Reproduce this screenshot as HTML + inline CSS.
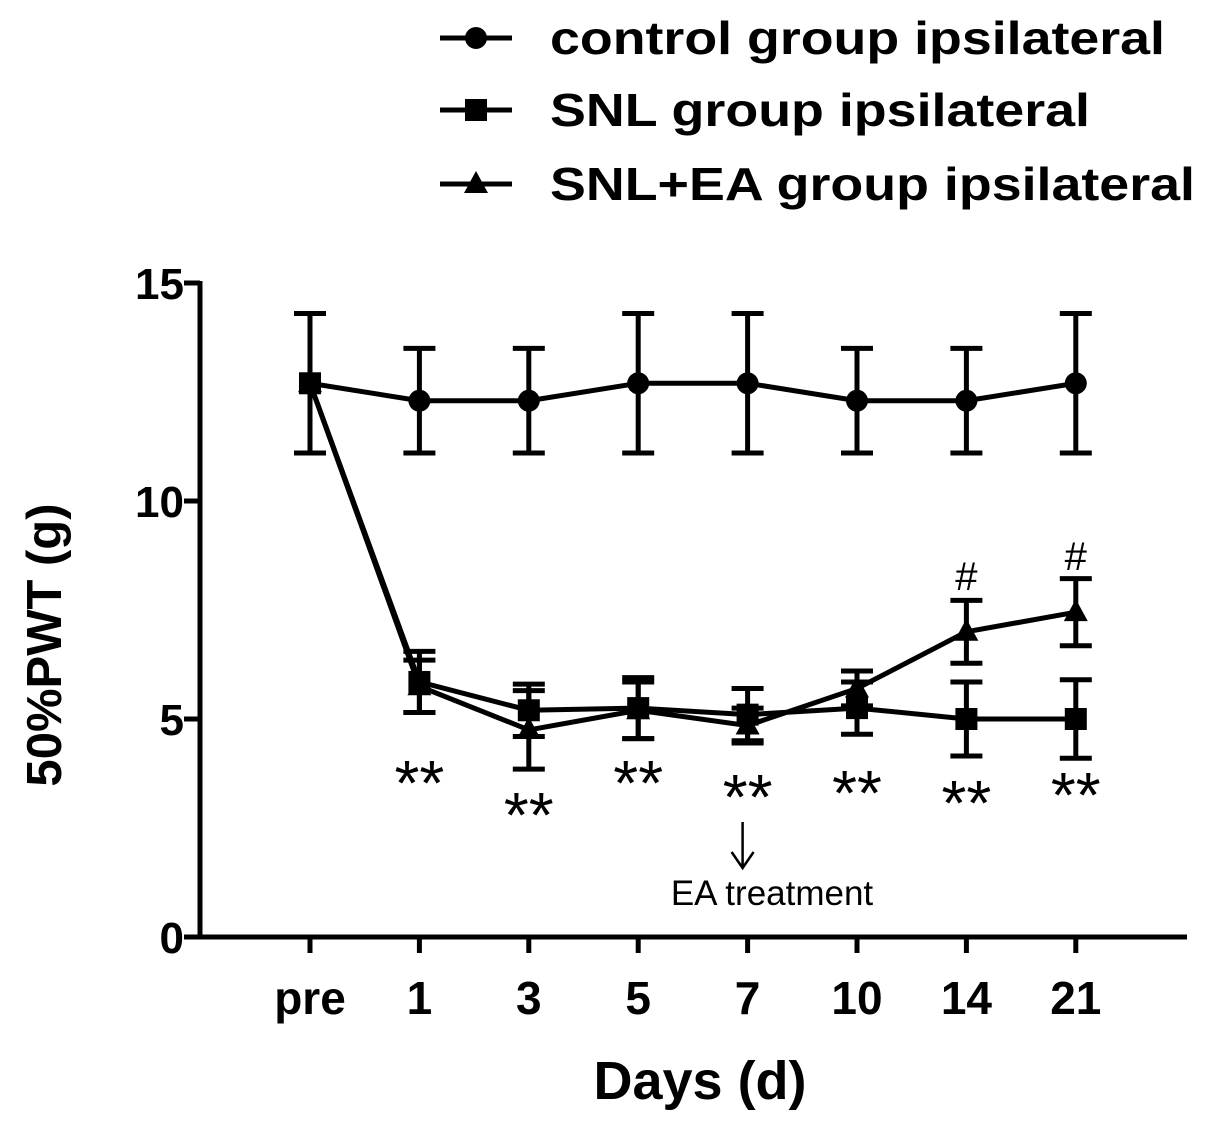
<!DOCTYPE html>
<html><head><meta charset="utf-8"><style>
html,body{margin:0;padding:0;background:#fff;}
svg{display:block;font-family:"Liberation Sans",Arial,sans-serif;}
</style></head><body>
<svg id="chart" width="1205" height="1122" viewBox="0 0 1205 1122"></svg>
<script>
const categories = ["pre","1","3","5","7","10","14","21"];
const controlMean = [12.7,12.3,12.3,12.7,12.7,12.3,12.3,12.7];
const controlErr  = [1.6,1.2,1.2,1.6,1.6,1.2,1.2,1.6];
const snlMean = [12.7,5.85,5.2,5.25,5.1,5.25,5.0,5.0];
const snlErr  = [1.6,0.7,0.6,0.7,0.6,0.6,0.85,0.9];
const eaMean = [12.7,5.75,4.75,5.2,4.85,5.7,7.0,7.45];
const eaErr  = [1.6,0.6,0.9,0.65,0.4,0.4,0.72,0.77];
const yTicks = [0,5,10,15];
const starLabels = ["","**","**","**","**","**","**","**"];
const starValues = [0,3.88,3.14,3.88,3.55,3.65,3.42,3.6];
const hashLabels = ["","","","","","","#","#"];
const hashValues = [0,0,0,0,0,0,8.3,8.76];

const NS="http://www.w3.org/2000/svg";
const svg=document.getElementById('chart');
const x0=200,x1=1187,yTop=283,yBot=937;
function yScale(v){return yBot-(v/15)*(yBot-yTop);}
function xScale(i){return 310+i*109.4;}
function mk(tag,attrs,parent){const e=document.createElementNS(NS,tag);for(const k in attrs)e.setAttribute(k,attrs[k]);(parent||svg).appendChild(e);return e;}
function txt(s,x,y,size,weight,anchor,parent){const t=mk('text',{x:x,y:y,'font-size':size,'font-weight':weight,'text-anchor':anchor||'middle',fill:'#000'},parent);t.textContent=s;return t;}

const axes=mk('g',{});


mk('line',{x1:x0,y1:yTop-2,x2:x0,y2:yBot,stroke:'#000','stroke-width':5},axes);
mk('line',{x1:x0-2,y1:yBot,x2:x1,y2:yBot,stroke:'#000','stroke-width':5},axes);
yTicks.forEach(v=>{
  const y=yScale(v);
  const tk=mk('line',{x1:x0-16,y1:y,x2:x0,y2:y,stroke:'#000','stroke-width':5},axes);
  
  
  const l=txt(String(v),x0-16,y+16,44,'bold','end',axes);
  
  
});
categories.forEach((c,i)=>{
  const tk=mk('line',{x1:xScale(i),y1:yBot,x2:xScale(i),y2:yBot+16,stroke:'#000','stroke-width':5},axes);
  
  
  const l=txt(c,xScale(i),1014,46,'bold','middle',axes);
  
  
});
const xt=txt('Days (d)',700,1099,54,'bold','middle');


const yt=txt('50%PWT (g)',0,0,49,'bold','middle');
yt.setAttribute('transform','translate(61,645) rotate(-90)');



function marker(type,x,y,parent){
  if(type==='circle')return mk('circle',{cx:x,cy:y,r:11,fill:'#000'},parent);
  if(type==='square')return mk('rect',{x:x-11,y:y-11,width:22,height:22,fill:'#000'},parent);
  return mk('polygon',{points:`${x},${y-13} ${x+12},${y+9} ${x-12},${y+9}`,fill:'#000'},parent);
}
function series(name,mean,err,type){
  const g=mk('g',{});
  
  
  mean.forEach((m,i)=>{
    const x=xScale(i),yt=yScale(m+err[i]),yb=yScale(m-err[i]);
    const eb=mk('path',{d:`M${x},${yt}V${yb}M${x-16},${yt}H${x+16}M${x-16},${yb}H${x+16}`,stroke:'#000','stroke-width':5,fill:'none'},g);
    
    
  });
  mk('polyline',{points:mean.map((m,i)=>xScale(i)+','+yScale(m)).join(' '),stroke:'#000','stroke-width':5,fill:'none'},g);
  mean.forEach((m,i)=>{
    const p=marker(type,xScale(i),yScale(m),g);
    
    
  });
}
series('control-series',controlMean,controlErr,'circle');
series('snl-series',snlMean,snlErr,'square');
series('snl-ea-series',eaMean,eaErr,'triangle');

starLabels.forEach((s,i)=>{if(!s)return;
  const t=txt(s,xScale(i),yScale(starValues[i])+37,64,'normal','middle');
  
  
});
hashLabels.forEach((s,i)=>{if(!s)return;
  const t=txt(s,xScale(i),yScale(hashValues[i])+15,40,'normal','middle');
  
  
});
const ann=mk('g',{});


mk('path',{d:`M${xScale(4)-5},822V866M${xScale(4)-16},852L${xScale(4)-5},868L${xScale(4)+6},852`,stroke:'#000','stroke-width':2.5,fill:'none'},ann);
txt('EA treatment',772,905,35,'normal','middle',ann);

const leg=mk('g',{});


[['control group ipsilateral','circle',38,615],['SNL group ipsilateral','square',110,540],['SNL+EA group ipsilateral','triangle',184,645]].forEach(([l,t,y,w])=>{
  const e=mk('g',{},leg);
  
  
  mk('line',{x1:440,y1:y,x2:512,y2:y,stroke:'#000','stroke-width':5},e);
  marker(t,476,y,e);
  const tt=txt(l,550,y+16,46,'bold','start',e);
  tt.setAttribute('textLength',w);
  tt.setAttribute('lengthAdjust','spacingAndGlyphs');
});
</script>
</body></html>
